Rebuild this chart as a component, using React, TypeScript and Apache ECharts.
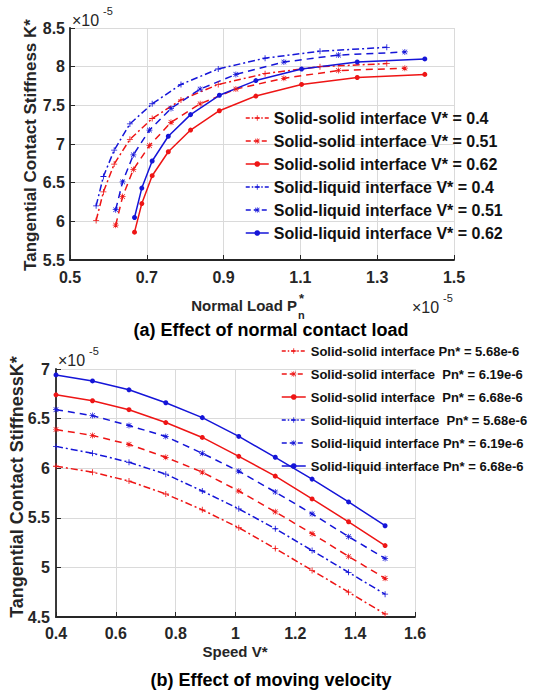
import React, { useEffect, useRef } from 'react';
import * as echarts from 'echarts';

const FONT = '"Liberation Sans", Arial, Helvetica, sans-serif';
const RED = '#ee1515';
const BLUE = '#1515d8';
const AXIS = '#262626';

// ---- (a) Effect of normal contact load ----
const pnV04 = [0.568, 0.587, 0.615, 0.656, 0.714, 0.789, 0.886, 1.008, 1.151, 1.325];
const pnV051 = [0.619, 0.637, 0.665, 0.707, 0.763, 0.839, 0.932, 1.057, 1.199, 1.372];
const pnV062 = [0.668, 0.687, 0.714, 0.756, 0.814, 0.889, 0.984, 1.103, 1.248, 1.424];
const kSS04 = [6.01, 6.38, 6.74, 7.06, 7.33, 7.57, 7.77, 7.91, 8.0, 8.04];
const kSS051 = [5.95, 6.32, 6.67, 6.98, 7.28, 7.52, 7.71, 7.85, 7.95, 7.98];
const kSS062 = [5.86, 6.23, 6.59, 6.9, 7.18, 7.43, 7.62, 7.77, 7.86, 7.9];
const kSL04 = [6.2, 6.58, 6.92, 7.26, 7.52, 7.77, 7.97, 8.11, 8.2, 8.25];
const kSL051 = [6.15, 6.51, 6.86, 7.18, 7.46, 7.71, 7.9, 8.06, 8.15, 8.19];
const kSL062 = [6.05, 6.43, 6.78, 7.1, 7.38, 7.63, 7.82, 7.97, 8.06, 8.1];
const namesA = [
  'Solid-solid interface V* = 0.4',
  'Solid-solid interface V* = 0.51',
  'Solid-solid interface V* = 0.62',
  'Solid-liquid interface V* = 0.4',
  'Solid-liquid interface V* = 0.51',
  'Solid-liquid interface V* = 0.62',
];

// ---- (b) Effect of moving velocity ----
const speed = [0.4, 0.522, 0.644, 0.767, 0.889, 1.011, 1.133, 1.256, 1.378, 1.5];
const kSS568 = [6.02, 5.96, 5.87, 5.74, 5.58, 5.4, 5.19, 4.97, 4.75, 4.53];
const kSS619 = [6.39, 6.33, 6.24, 6.11, 5.96, 5.77, 5.56, 5.34, 5.11, 4.89];
const kSS668 = [6.74, 6.68, 6.59, 6.46, 6.31, 6.12, 5.92, 5.69, 5.46, 5.22];
const kSL568 = [6.22, 6.15, 6.06, 5.94, 5.77, 5.59, 5.39, 5.17, 4.95, 4.73];
const kSL619 = [6.59, 6.53, 6.43, 6.32, 6.15, 5.97, 5.76, 5.54, 5.31, 5.09];
const kSL668 = [6.94, 6.88, 6.79, 6.66, 6.51, 6.32, 6.11, 5.89, 5.66, 5.42];
const namesB = [
  'Solid-solid interface Pn* = 5.68e-6',
  'Solid-solid interface  Pn* = 6.19e-6',
  'Solid-solid interface  Pn* = 6.68e-6',
  'Solid-liquid interface  Pn* = 5.68e-6',
  'Solid-liquid interface Pn* = 6.19e-6',
  'Solid-liquid interface Pn* = 6.68e-6',
];

const PLUS = 'path://M4.3,0H5.7V4.3H10V5.7H5.7V10H4.3V5.7H0V4.3H4.3Z';
const STAR =
  'path://M4.4,0H5.6V4.4H10V5.6H5.6V10H4.4V5.6H0V4.4H4.4Z M1.5,0.7L5,4.2L8.5,0.7L9.3,1.5L5.8,5L9.3,8.5L8.5,9.3L5,5.8L1.5,9.3L0.7,8.5L4.2,5L0.7,1.5Z';
const DASHDOT = [7, 3, 2, 3];
const DASHED = [7, 5];
const KINDS = [0, 1, 2, 0, 1, 2];
const COLORS = [RED, RED, RED, BLUE, BLUE, BLUE];

const symOf = (k: number) => (k === 0 ? PLUS : k === 1 ? STAR : 'circle');
const dashOf = (k: number) => (k === 0 ? DASHDOT : k === 1 ? DASHED : 'solid');
const legDashOf = (k: number) => (k === 0 ? [4, 2, 1.5, 2] : k === 1 ? [5, 3] : 'solid');

function mk(name: string, xs: number[], ys: number[], color: string, kind: number, gi: number) {
  return {
    type: 'line',
    name,
    xAxisIndex: gi,
    yAxisIndex: gi,
    data: xs.map((x, i) => [x, ys[i]]),
    symbol: symOf(kind),
    symbolSize: kind === 2 ? 5 : 6,
    showSymbol: true,
    lineStyle: { color, width: 1.5, type: dashOf(kind) },
    itemStyle: { color, borderWidth: 0 },
    emphasis: { disabled: true },
  };
}

function legendData(names: string[]) {
  return names.map((n, i) => ({
    name: n,
    itemStyle: { color: COLORS[i], borderWidth: 0 },
    lineStyle: { color: COLORS[i], width: 1.5, type: legDashOf(KINDS[i]) },
  }));
}

function xAx(gi: number, min: number, max: number, interval: number, margin: number, fmt?: (v: number) => string) {
  return {
    gridIndex: gi,
    type: 'value',
    min,
    max,
    interval,
    axisLine: { show: true, onZero: false, lineStyle: { color: AXIS, width: 1.8 } },
    axisTick: { show: true, inside: true, length: 5, lineStyle: { color: AXIS } },
    axisLabel: { fontSize: 16, fontWeight: 'bold', color: AXIS, fontFamily: FONT, margin, formatter: fmt },
    splitLine: { show: true, lineStyle: { color: '#dadada', width: 1 } },
  };
}
function yAx(gi: number, min: number, max: number, interval: number, margin: number) {
  return {
    gridIndex: gi,
    type: 'value',
    min,
    max,
    interval,
    axisLine: { show: true, onZero: false, lineStyle: { color: AXIS, width: 1.8 } },
    axisTick: { show: true, inside: true, length: 5, lineStyle: { color: AXIS } },
    axisLabel: { fontSize: 16, fontWeight: 'bold', color: AXIS, fontFamily: FONT, margin },
    splitLine: { show: true, lineStyle: { color: '#dadada', width: 1 } },
  };
}

function txt(text: string, x: number, y: number, fontSize: number, bold: boolean, align = 'left', rot = 0, fill = '#111') {
  return {
    type: 'text',
    x,
    y,
    rotation: rot,
    silent: true,
    style: {
      text,
      fontSize,
      fontWeight: bold ? 'bold' : 'normal',
      fontFamily: FONT,
      fill,
      textAlign: align,
      textVerticalAlign: 'middle',
    },
  };
}

export default function App() {
  const ref = useRef<HTMLDivElement>(null);
  useEffect(() => {
    document.body.style.margin = '0';
    const chart = echarts.init(ref.current!, null, { renderer: 'svg' });
    const series = [
      mk(namesA[0], pnV04, kSS04, RED, 0, 0),
      mk(namesA[1], pnV051, kSS051, RED, 1, 0),
      mk(namesA[2], pnV062, kSS062, RED, 2, 0),
      mk(namesA[3], pnV04, kSL04, BLUE, 0, 0),
      mk(namesA[4], pnV051, kSL051, BLUE, 1, 0),
      mk(namesA[5], pnV062, kSL062, BLUE, 2, 0),
      mk(namesB[0], speed, kSS568, RED, 0, 1),
      mk(namesB[1], speed, kSS619, RED, 1, 1),
      mk(namesB[2], speed, kSS668, RED, 2, 1),
      mk(namesB[3], speed, kSL568, BLUE, 0, 1),
      mk(namesB[4], speed, kSL619, BLUE, 1, 1),
      mk(namesB[5], speed, kSL668, BLUE, 2, 1),
    ];
    chart.setOption({
      animation: false,
      backgroundColor: '#ffffff',
      grid: [
        { left: 70, top: 28, width: 384, height: 232, containLabel: false },
        { left: 56, top: 369, width: 359, height: 248, containLabel: false },
      ],
      xAxis: [xAx(0, 0.5, 1.5, 0.2, 9, (v: number) => v.toFixed(1)), xAx(1, 0.4, 1.6, 0.2, 8)],
      yAxis: [yAx(0, 5.5, 8.5, 0.5, 5), yAx(1, 4.5, 7, 0.5, 6)],
      legend: [
        {
          data: legendData(namesA),
          orient: 'vertical',
          left: 240,
          top: 105,
          itemWidth: 23,
          itemHeight: 7,
          itemGap: 7,
          selectedMode: false,
          textStyle: { fontSize: 16, fontWeight: 'bold', color: '#111', fontFamily: FONT, lineHeight: 16 },
        },
        {
          data: legendData(namesB),
          orient: 'vertical',
          left: 276,
          top: 339,
          itemWidth: 24,
          itemHeight: 7,
          itemGap: 9,
          selectedMode: false,
          textStyle: { fontSize: 13, fontWeight: 'bold', color: '#111', fontFamily: FONT, lineHeight: 14 },
        },
      ],
      series,
      graphic: [
        txt('Tangential Contact Stiffness K*', 30, 145, 17, true, 'center', Math.PI / 2, AXIS),
        txt('×10', 72, 20, 16, false, 'left', 0, AXIS),
        txt('-5', 103, 11, 11, false, 'left', 0, AXIS),
        txt('Normal Load P', 297, 305, 15, true, 'right', 0, AXIS),
        txt('n', 298, 315, 11, true, 'left', 0, AXIS),
        txt('*', 299, 298, 13, true, 'left', 0, AXIS),
        txt('×10', 412, 307, 16, false, 'left', 0, AXIS),
        txt('-5', 443, 298, 11, false, 'left', 0, AXIS),
        txt('(a) Effect of normal contact load', 271, 330, 18, true, 'center', 0, '#000'),
        txt('Tangential Contact StiffnessK*', 17, 487, 18, true, 'center', Math.PI / 2, AXIS),
        txt('×10', 58, 360, 16, false, 'left', 0, AXIS),
        txt('-5', 89, 351, 11, false, 'left', 0, AXIS),
        txt('Speed V*', 235, 651, 15, true, 'center', 0, AXIS),
        txt('(b) Effect of moving velocity', 271, 680, 18, true, 'center', 0, '#000'),
      ],
    });
    return () => chart.dispose();
  }, []);
  return <div ref={ref} style={{ width: 537, height: 694 }} />;
}
